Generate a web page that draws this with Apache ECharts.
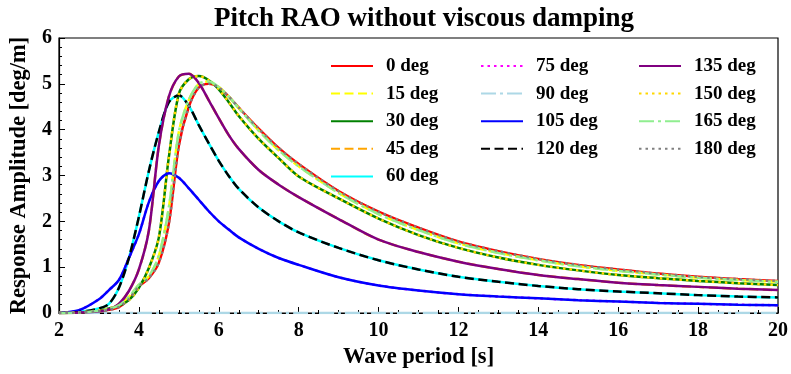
<!DOCTYPE html>
<html>
<head>
<meta charset="utf-8">
<script src="https://cdn.jsdelivr.net/npm/echarts@6/dist/echarts.min.js"></script>
<style>html,body{margin:0;padding:0;background:#fff}#c{width:791px;height:374px}</style>
</head>
<body>
<div id="c"></div>
<script>
const periods = [2, 2.5, 3, 3.25, 3.5, 3.75, 4, 4.25, 4.5, 4.75, 5, 5.25, 5.5, 5.75, 6, 6.25, 6.5, 7, 7.5, 8, 9, 10, 11, 12, 13, 14, 15, 16, 17, 18, 19, 20];
const rao0   = [0, 0.01, 0.04, 0.07, 0.13, 0.3, 0.58, 0.76, 1.1, 1.95, 3.65, 4.5, 4.92, 5.0, 4.92, 4.72, 4.48, 4.02, 3.6, 3.25, 2.66, 2.21, 1.86, 1.56, 1.35, 1.18, 1.05, 0.95, 0.86, 0.79, 0.74, 0.70];
const rao15  = [0, 0.01, 0.05, 0.09, 0.17, 0.35, 0.62, 0.8, 1.25, 2.3, 3.95, 4.65, 5.0, 5.05, 4.93, 4.72, 4.47, 3.98, 3.55, 3.2, 2.62, 2.16, 1.81, 1.52, 1.31, 1.15, 1.02, 0.92, 0.84, 0.77, 0.72, 0.68];
const rao30  = [0, 0.01, 0.06, 0.1, 0.16, 0.28, 0.55, 0.98, 1.65, 3.4, 4.78, 5.1, 5.17, 5.08, 4.88, 4.6, 4.3, 3.8, 3.38, 2.98, 2.5, 2.06, 1.7, 1.42, 1.21, 1.05, 0.93, 0.83, 0.76, 0.70, 0.65, 0.61];
const rao45  = [0, 0.01, 0.04, 0.08, 0.2, 0.48, 0.95, 1.8, 3.65, 4.72, 5.16, 5.22, 5.02, 4.64, 4.25, 3.88, 3.58, 3.12, 2.8, 2.53, 2.05, 1.6, 1.33, 1.12, 0.96, 0.83, 0.74, 0.66, 0.61, 0.57, 0.53, 0.50];
const rao60  = [0, 0.02, 0.1, 0.2, 0.55, 1.2, 2.1, 3.1, 3.95, 4.6, 4.75, 4.52, 4.1, 3.7, 3.32, 2.99, 2.71, 2.3, 2.0, 1.76, 1.42, 1.15, 0.95, 0.79, 0.68, 0.59, 0.52, 0.47, 0.43, 0.39, 0.36, 0.34];
const rao75  = [0, 0.06, 0.3, 0.5, 0.72, 1.2, 1.72, 2.42, 2.88, 3.05, 2.95, 2.72, 2.47, 2.22, 2.0, 1.82, 1.65, 1.4, 1.2, 1.05, 0.78, 0.6, 0.49, 0.41, 0.36, 0.32, 0.28, 0.25, 0.22, 0.2, 0.18, 0.17];
const rao90  = [0, 0, 0, 0, 0, 0, 0, 0, 0, 0, 0, 0, 0, 0, 0, 0, 0, 0, 0, 0, 0, 0, 0, 0, 0, 0, 0, 0, 0, 0, 0, 0];
const rao105 = rao75;
const rao120 = rao60;
const rao135 = rao45;
const rao150 = rao30;
const rao165 = rao15;
const rao180 = rao0;

const headings = ['0 deg','15 deg','30 deg','45 deg','60 deg','75 deg','90 deg','105 deg','120 deg','135 deg','150 deg','165 deg','180 deg'];
const values = [rao0, rao15, rao30, rao45, rao60, rao75, rao90, rao105, rao120, rao135, rao150, rao165, rao180];
const colors = ['#ff0000','#ffff00','#008000','#ffa500','#00ffff','#ff00ff','#add8e6','#0000ff','#000000','#800080','#ffd700','#90ee90','#808080'];
const DASH = [9, 4.5], DOT = [2.5, 4], DASHDOT = [15, 4, 3, 4];
const types = ['solid', DASH, 'solid', DASH, 'solid', DOT, DASHDOT, 'solid', DASH, 'solid', DOT, DASHDOT, DOT];

const FONT = 'Liberation Serif';
const series = headings.map((h, i) => ({
  name: h,
  type: 'line',
  data: periods.map((p, k) => [p, values[i][k]]),
  showSymbol: false,
  symbol: 'none',
  smooth: 0.3,
  lineStyle: { color: colors[i], width: 2.5, type: types[i] },
  itemStyle: { color: colors[i] },
  emphasis: { disabled: true },
  animation: false
}));

function legendCol(names, left) {
  return {
    data: names, orient: 'vertical', left: left, top: 56, padding: 0,
    itemWidth: 42, itemHeight: 14, itemGap: 7.6,
    itemStyle: { opacity: 0 },
    textStyle: { fontFamily: FONT, fontWeight: 'bold', fontSize: 19, color: '#000', lineHeight: 20, padding: [0, 0, 0, 8] },
    selectedMode: false
  };
}

const chart = echarts.init(document.getElementById('c'), null, { renderer: 'canvas' });
chart.setOption({
  animation: false,
  title: {
    text: 'Pitch RAO without viscous damping', left: 419, top: 1, textAlign: 'center',
    textStyle: { fontFamily: FONT, fontWeight: 'bold', fontSize: 27, color: '#000' }
  },
  legend: [
    legendCol(headings.slice(0, 5), 330),
    legendCol(headings.slice(5, 9), 480),
    legendCol(headings.slice(9, 13), 638)
  ],
  grid: { left: 59, right: 11, top: 38, bottom: 61, show: true, borderColor: '#000', borderWidth: 1.2, backgroundColor: 'transparent' },
  xAxis: {
    type: 'value', min: 2, max: 20, interval: 2,
    name: 'Wave period [s]', nameLocation: 'middle', nameGap: 31,
    nameTextStyle: { fontFamily: FONT, fontWeight: 'bold', fontSize: 22.5, color: '#000' },
    axisLine: { lineStyle: { color: '#000', width: 1.2 } },
    axisTick: { inside: true, length: 6, lineStyle: { color: '#000' } },
    minorTick: { show: true, splitNumber: 4, length: 3, lineStyle: { color: '#000' } },
    splitLine: { show: false },
    axisLabel: { fontFamily: FONT, fontWeight: 'bold', fontSize: 20, color: '#000', margin: 8 }
  },
  yAxis: {
    type: 'value', min: 0, max: 6, interval: 1,
    name: 'Response Amplitude [deg/m]', nameLocation: 'middle', nameGap: 23,
    nameTextStyle: { fontFamily: FONT, fontWeight: 'bold', fontSize: 22.5, color: '#000' },
    axisLine: { show: true, lineStyle: { color: '#000', width: 1.2 } },
    axisTick: { show: true, inside: true, length: 6, lineStyle: { color: '#000' } },
    minorTick: { show: true, splitNumber: 5, length: 3, lineStyle: { color: '#000' } },
    splitLine: { show: false },
    axisLabel: { fontFamily: FONT, fontWeight: 'bold', fontSize: 20, color: '#000', margin: 7 }
  },
  series: series
});
</script>
</body>
</html>
